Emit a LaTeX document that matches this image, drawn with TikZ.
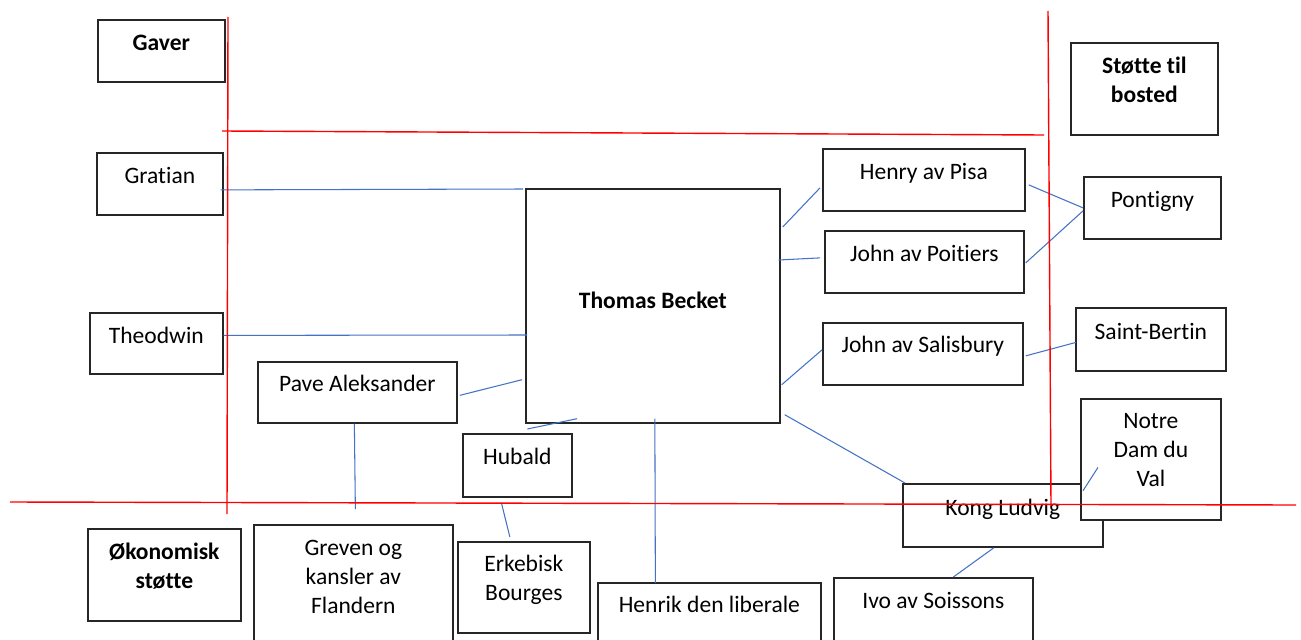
\documentclass[tikz,border=0pt]{standalone}
\usepackage{fontspec}
\setmainfont{Carlito}[Ligatures=NoCommon]
\definecolor{wordblue}{RGB}{68,114,196}

\begin{document}
\begin{tikzpicture}[x=0.02cm,y=-0.02cm,
    box/.style={rectangle,draw=black!85,line width=1pt,fill=white,inner sep=0pt,anchor=north west,align=flush center,font=\fontsize{13.4}{16.5}\selectfont},
    link/.style={draw=wordblue,line width=0.6pt},
    divider/.style={draw=red,line width=0.8pt}]
      \fill[white] (0,0) rectangle (1301,639);
      \useasboundingbox (0,0) rectangle (1301,639);

      % headings
      \node[box,text width=2.54cm,text height=0.62cm,text depth=0.62cm] (gaver) at (97,19) {\textbf{Gaver}};
      \node[box,text width=2.94cm,text height=0.62cm,text depth=1.22cm] (stotte) at (1070,42) {\textbf{Støtte til}\\\textbf{bosted}};
      \node[box,text width=3.06cm,text height=0.62cm,text depth=1.22cm] (okonomisk) at (87,528) {\textbf{Økonomisk}\\\textbf{støtte}};

      % centre
      \node[box,text width=5.08cm,text height=2.40cm,text depth=2.28cm] (becket) at (525,188) {\textbf{Thomas Becket}};

      % left side
      \node[box,text width=2.52cm,text height=0.62cm,text depth=0.62cm] (gratian) at (96,152) {Gratian};
      \node[box,text width=2.66cm,text height=0.62cm,text depth=0.60cm] (theodwin) at (89,312) {Theodwin};
      \node[box,text width=3.98cm,text height=0.60cm,text depth=0.62cm] (pave) at (257,361) {Pave Aleksander};
      \node[box,text width=2.18cm,text height=0.62cm,text depth=0.64cm] (hubald) at (462,433) {Hubald};

      % right side
      \node[box,text width=4.04cm,text height=0.62cm,text depth=0.62cm] (henry) at (822,148) {Henry av Pisa};
      \node[box,text width=3.98cm,text height=0.62cm,text depth=0.62cm] (poitiers) at (824,230) {John av Poitiers};
      \node[box,text width=4.00cm,text height=0.60cm,text depth=0.64cm] (salisbury) at (822,322) {John av Salisbury};
      \node[box,text width=2.74cm,text height=0.62cm,text depth=0.62cm] (pontigny) at (1083,176) {Pontigny};
      \node[box,text width=3.00cm,text height=0.64cm,text depth=0.62cm] (bertin) at (1075,307) {Saint-Bertin};
      \node[box,text width=4.00cm,text height=0.64cm,text depth=0.62cm] (kong) at (902,483) {Kong Ludvig};
      \node[box,text width=2.80cm,text height=0.60cm,text depth=1.82cm] (notre) at (1080,398) {Notre\\Dam du\\Val};

      % bottom row
      \node[box,text width=3.98cm,text height=0.62cm,text depth=2.10cm] (greven) at (253,524) {Greven og\\kansler av\\Flandern};
      \node[box,text width=2.64cm,text height=0.60cm,text depth=1.22cm] (erkebisk) at (457,541) {Erkebisk\\Bourges};
      \node[box,text width=4.46cm,text height=0.60cm,text depth=0.96cm] (henrik) at (597,582) {Henrik den liberale};
      \node[box,text width=3.98cm,text height=0.62cm,text depth=1.04cm] (ivo) at (833,577) {Ivo av Soissons};

      % links to Thomas Becket
      \draw[link] ([shift={(-3,6)}]gratian.east) -- ([shift={(-2,1)}]becket.north west);
      \draw[link] ([shift={(0,-8)}]theodwin.east) -- ([shift={(2,147)}]becket.north west);
      \draw[link] ([shift={(2,3)}]pave.east) -- ([shift={(-3,-44)}]becket.south west);
      \draw[link] ([shift={(10,-4)}]hubald.north) -- ([shift={(52,-5)}]becket.south west);
      \draw[link] ([shift={(2,-5)}]becket.south) -- ([shift={(-54,1)}]henrik.north);
      \draw[link] ([shift={(4,-9)}]becket.south east) -- ([shift={(3,0)}]kong.north west);
      \draw[link] ([shift={(2,39)}]becket.north east) -- ([shift={(-2,8)}]henry.west);
      \draw[link] ([shift={(-2,72)}]becket.north east) -- ([shift={(-4,-4)}]poitiers.west);
      \draw[link] ([shift={(1,-39)}]becket.south east) -- ([shift={(0,-4)}]salisbury.west);

      % other links
      \draw[link] ([shift={(-3,0)}]pave.south) -- ([shift={(2,-15)}]greven.north);
      \draw[link] ([shift={(-16,5)}]hubald.south) -- ([shift={(-14,-4)}]erkebisk.north);
      \draw[link] ([shift={(-9,0)}]kong.south) -- ([shift={(20,0)}]ivo.north);
      \draw[link] ([shift={(18,8)}]notre.west) -- ([shift={(3,-30)}]notre.south west);
      \draw[link] ([shift={(2,2)}]salisbury.east) -- ([shift={(1,3)}]bertin.west);
      \draw[link] ([shift={(3,5)}]henry.east) -- (pontigny.west);
      \draw[link] ([shift={(1,1)}]poitiers.east) -- ([shift={(0,3)}]pontigny.west);

      % dividing lines
      \draw[divider] (228,17) -- (227,514);
      \draw[divider] (222,131) -- (1044,135);
      \draw[divider] (1048,11) -- (1051,506);
      \draw[divider] (10,502) -- (1296,505);
\end{tikzpicture}
\end{document}
